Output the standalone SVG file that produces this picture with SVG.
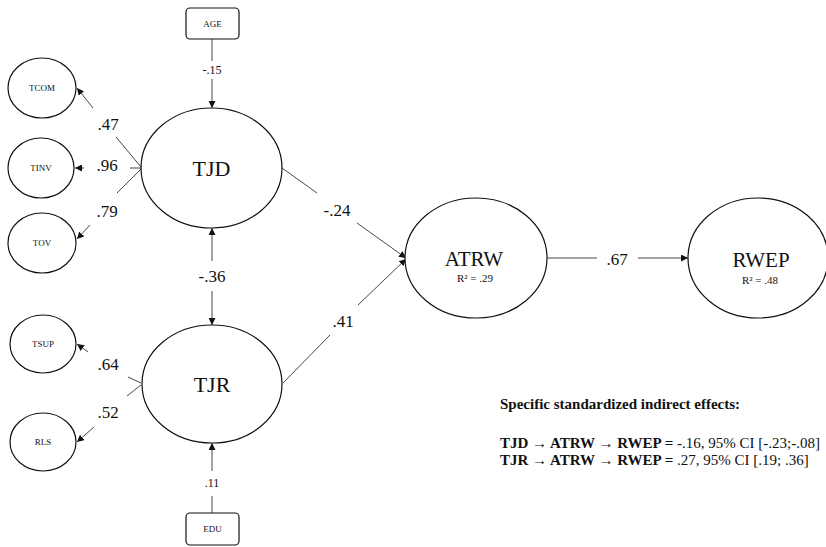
<svg xmlns="http://www.w3.org/2000/svg" width="826" height="547" viewBox="0 0 826 547" font-family="'Liberation Serif', 'Times New Roman', serif">
<defs>
<marker id="ah" viewBox="0 0 10 10" refX="10" refY="5" markerWidth="7" markerHeight="7" markerUnits="userSpaceOnUse" orient="auto-start-reverse">
<path d="M0,0 L10,5 L0,10 z" fill="#111"/>
</marker>
</defs>
<style>
.n{fill:#fff;stroke:#111;stroke-width:1.2}
.c{stroke:#333;stroke-width:0.9;fill:none}
text{font-family:'Liberation Serif','Times New Roman',serif;fill:#111}
.big{font-size:22px;text-anchor:middle}
.big2{font-size:21px;text-anchor:middle}
.sm{font-size:9px;text-anchor:middle}
.r2{font-size:11px;text-anchor:middle}
.lab{font-size:17px;text-anchor:middle}
.lab2{font-size:12px;text-anchor:middle}
.tx{font-size:15px}
.ar{font-family:'Liberation Serif','DejaVu Serif','DejaVu Sans',serif;fill:#111}
</style>
<rect width="826" height="547" fill="#fff"/>
<g id="connectors">
<line class="c" x1="212" y1="39" x2="212" y2="61"/>
<line class="c" x1="212" y1="79" x2="212" y2="108" marker-end="url(#ah)"/>
<text class="lab2" x="212" y="74">-.15</text>
<line class="c" x1="141" y1="167" x2="116" y2="137"/>
<line class="c" x1="93" y1="108" x2="77" y2="88" marker-end="url(#ah)"/>
<text class="lab" x="108" y="130">.47</text>
<line class="c" x1="141" y1="168" x2="130" y2="168"/>
<line class="c" x1="84" y1="168" x2="75" y2="168" marker-end="url(#ah)"/>
<text class="lab" x="107" y="171">.96</text>
<line class="c" x1="141" y1="169" x2="117" y2="193"/>
<line class="c" x1="90" y1="225" x2="77" y2="239" marker-end="url(#ah)"/>
<text class="lab" x="107" y="217">.79</text>
<line class="c" x1="212" y1="261" x2="212" y2="228" marker-end="url(#ah)"/>
<line class="c" x1="212" y1="291" x2="212" y2="325" marker-end="url(#ah)"/>
<text class="lab" x="212" y="282">-.36</text>
<line class="c" x1="141" y1="383" x2="128" y2="377"/>
<line class="c" x1="88" y1="352" x2="77" y2="344" marker-end="url(#ah)"/>
<text class="lab" x="108" y="370">.64</text>
<line class="c" x1="141" y1="385" x2="127" y2="396"/>
<line class="c" x1="94" y1="427" x2="77" y2="442" marker-end="url(#ah)"/>
<text class="lab" x="108" y="418">.52</text>
<line class="c" x1="212" y1="513" x2="212" y2="496"/>
<line class="c" x1="212" y1="471" x2="212" y2="443" marker-end="url(#ah)"/>
<text class="lab2" x="212" y="487">.11</text>
<line class="c" x1="282" y1="168" x2="317" y2="193"/>
<line class="c" x1="357" y1="223" x2="406" y2="258" marker-end="url(#ah)"/>
<text class="lab" x="337" y="216">-.24</text>
<line class="c" x1="283" y1="383" x2="330" y2="335"/>
<line class="c" x1="358" y1="305" x2="406" y2="259" marker-end="url(#ah)"/>
<text class="lab" x="343" y="327">.41</text>
<line class="c" x1="547" y1="258" x2="597" y2="258"/>
<line class="c" x1="638" y1="258" x2="688" y2="258" marker-end="url(#ah)"/>
<text class="lab" x="617" y="265">.67</text>
</g>
<g id="AGE"><rect class="n" x="186" y="8" width="53" height="31" rx="4"/><text class="sm" x="212.5" y="27">AGE</text></g>
<g id="EDU"><rect class="n" x="186" y="513" width="53" height="32" rx="4"/><text class="sm" x="212.5" y="532">EDU</text></g>
<g id="TCOM"><ellipse class="n" cx="42" cy="88" rx="34" ry="30"/><text class="sm" x="42" y="91">TCOM</text></g>
<g id="TINV"><ellipse class="n" cx="41" cy="168" rx="33" ry="30"/><text class="sm" x="41" y="171">TINV</text></g>
<g id="TOV"><ellipse class="n" cx="42" cy="243" rx="34" ry="30"/><text class="sm" x="42" y="246">TOV</text></g>
<g id="TSUP"><ellipse class="n" cx="43" cy="344" rx="33" ry="29"/><text class="sm" x="43" y="347">TSUP</text></g>
<g id="RLS"><ellipse class="n" cx="43" cy="442" rx="33" ry="29"/><text class="sm" x="43" y="445">RLS</text></g>
<g id="TJD"><ellipse class="n" cx="211.5" cy="168" rx="70.5" ry="60"/><text class="big" x="211.5" y="176">TJD</text></g>
<g id="TJR"><ellipse class="n" cx="212" cy="384" rx="70" ry="59"/><text class="big" x="212" y="392">TJR</text></g>
<g id="ATRW"><ellipse class="n" cx="476" cy="258" rx="71" ry="60"/><text class="big2" x="474" y="266">ATRW</text><text class="r2" x="475" y="282">R² = .29</text></g>
<g id="RWEP"><ellipse class="n" cx="758" cy="258" rx="70" ry="60"/><text class="big2" x="761" y="267">RWEP</text><text class="r2" x="760" y="284">R² = .48</text></g>
<g id="effects">
<text class="tx" x="500" y="409" font-weight="bold">Specific standardized  indirect effects:</text>
<text class="tx" x="500" y="448"><tspan font-weight="bold">TJD <tspan class="ar">→</tspan> ATRW <tspan class="ar">→</tspan> RWEP = </tspan> -.16, 95% CI [-.23;-.08]</text>
<text class="tx" x="500" y="465"><tspan font-weight="bold">TJR <tspan class="ar">→</tspan> ATRW <tspan class="ar">→</tspan> RWEP = </tspan>.27, 95% CI [.19; .36]</text>
</g>
</svg>
